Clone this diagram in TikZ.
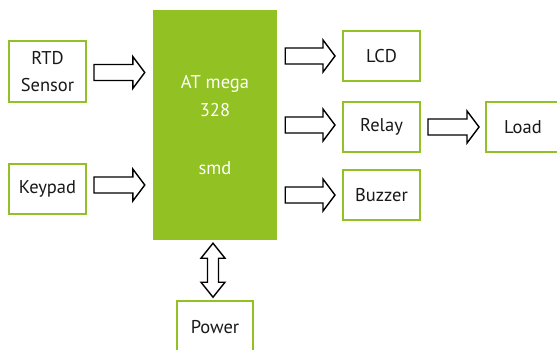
\documentclass[tikz,border=0pt]{standalone}
\usepackage{fontspec}
\setmainfont{PT Sans}
\usetikzlibrary{calc, positioning}
\definecolor{blockgreen}{RGB}{146,193,36}
\tikzset{
  unit/.style={draw=blockgreen, line width=2pt, fill=white, minimum width=77pt,
    minimum height=50pt, align=center, text=black!90,
    font=\fontsize{18.5}{27}\selectfont},
  mcu/.style={fill=blockgreen, minimum width=124pt, minimum height=230pt,
    align=center, text=white, font=\fontsize{18.5}{28}\selectfont},
  blockarrow/.style={line width=1.4pt, fill=white,
    to path={let \p1=(\tikztostart), \p2=(\tikztotarget) in
      (\x1,\y1+8pt) -- (\x2-12pt,\y1+8pt) -- (\x2-12pt,\y1+16pt) -- (\x2,\y1)
      -- (\x2-12pt,\y1-16pt) -- (\x2-12pt,\y1-8pt) -- (\x1,\y1-8pt) -- cycle}},
  twowayarrow/.style={line width=1.4pt, fill=white,
    to path={let \p1=(\tikztostart), \p2=(\tikztotarget) in
      (\x1,\y1) -- (\x1+12pt,\y1-15pt) -- (\x1+5.5pt,\y1-15pt) -- (\x1+5.5pt,\y2+15pt)
      -- (\x1+12pt,\y2+15pt) -- (\x1,\y2) -- (\x1-12pt,\y2+15pt) -- (\x1-5.5pt,\y2+15pt)
      -- (\x1-5.5pt,\y1-15pt) -- (\x1-12pt,\y1-15pt) -- cycle}}
}

\begin{document}
\begin{tikzpicture}[x=1pt, y=1pt]
  \useasboundingbox (0,0) rectangle (557,-349);
  % controller
  \node[mcu] (mcu) at (215,-125) {AT mega\\328\\[30pt]smd};
  % inputs
  \node[unit, minimum height=61pt] (rtd) at (47.5,-71.5) {RTD\\Sensor};
  \node[unit, below=60pt of rtd] (keypad) {Keypad};
  % outputs
  \node[unit] (lcd) at (381.5,-56) {LCD};
  \node[unit, below=19pt of lcd] (relay) {Relay};
  \node[unit, below=16pt of relay] (buzzer) {Buzzer};
  \node[unit, right=64pt of relay, minimum width=74pt] (load) {Load};
  \node[unit, minimum width=76pt, minimum height=52pt, below=60pt of mcu] (power) {Power};

  \draw[blockarrow] ($(rtd.east)+(7pt,-1pt)$) to ($(mcu.west |- rtd.east)+(-8pt,-1pt)$);
  \draw[blockarrow] ($(keypad.east)+(7pt,4pt)$) to ($(mcu.west |- keypad.east)+(-8pt,4pt)$);
  \draw[blockarrow] ($(mcu.east |- lcd.west)+(8pt,0)$) to ($(lcd.west)+(-7pt,0)$);
  \draw[blockarrow] ($(mcu.east |- relay.west)+(8pt,2pt)$) to ($(relay.west)+(-7pt,2pt)$);
  \draw[blockarrow] ($(mcu.east |- buzzer.west)+(8pt,0)$) to ($(buzzer.west)+(-7pt,0)$);
  \draw[blockarrow] ($(relay.east)+(7pt,0)$) to ($(load.west)+(-6pt,0)$);
  \draw[twowayarrow] ($(mcu.south)+(-2pt,-3pt)$) to ($(power.north)+(-2pt,3pt)$);
\end{tikzpicture}
\end{document}
